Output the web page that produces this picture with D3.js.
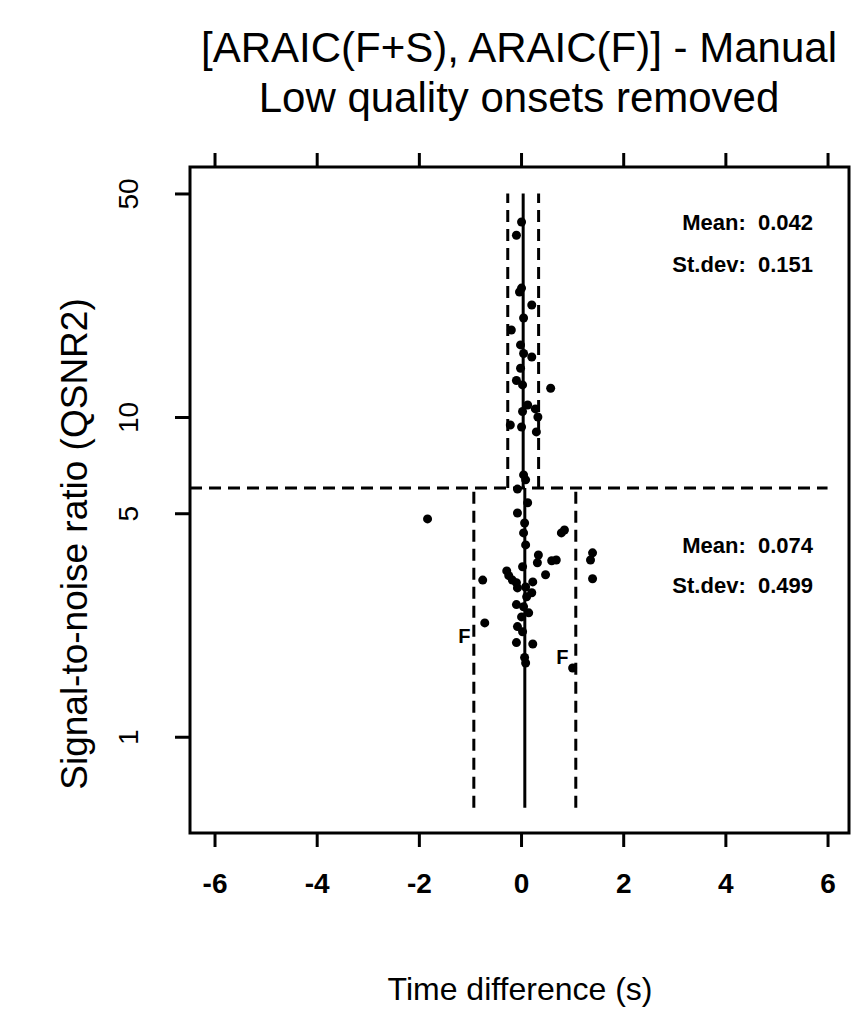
<!DOCTYPE html>
<html>
<head>
<meta charset="utf-8">
<script src="https://cdn.jsdelivr.net/npm/d3@7"></script>
<style>
  html, body { margin: 0; padding: 0; background: #fff; }
  svg { display: block; }
  text { font-family: "Liberation Sans", Arial, Helvetica, sans-serif; fill: #000; white-space: pre; }
</style>
</head>
<body>
<svg id="chart" width="851" height="1025"></svg>
<script>
// Onsets with high SNR (above threshold): [time difference (s), QSNR2]
const highTimeDiff = [0.01, -0.09, 0.01, -0.03, 0.21, 0.05, -0.19, -0.01, 0.05, 0.21, -0.01, -0.09, 0.03, 0.58, 0.13, 0.03, 0.28, 0.33, -0.21, 0.01, 0.30, 0.05, 0.09];
const highSNR      = [40.7, 37.0, 25.3, 24.6, 22.4, 20.4, 18.7, 16.8, 15.8, 15.4, 14.2, 13.0, 12.6, 12.3, 10.9, 10.4, 10.6, 10.0, 9.44, 9.3, 8.98, 6.59, 6.36];

// Onsets with low SNR (below threshold)
const lowTimeDiff = [-1.83, -0.07, 0.13, -0.07, 0.07, 0.85, 0.79, 0.05, 0.09, 0.34, 1.40, 1.36, 0.32, 0.60, 0.69, 0.03, -0.28, -0.24, -0.75, -0.17, -0.09, 0.23, 0.48, 1.40, -0.07, 0.09, 0.21, 0.11, -0.09, 0.05, 0.15, 0.01, -0.71, -0.07, 0.03, -0.09, 0.23, 0.07, 1.01, 0.09];
const lowSNR      = [4.80, 5.95, 5.39, 5.01, 4.66, 4.43, 4.34, 4.34, 3.98, 3.70, 3.76, 3.57, 3.50, 3.55, 3.57, 3.40, 3.30, 3.19, 3.09, 3.09, 3.03, 3.05, 3.21, 3.12, 2.92, 2.94, 2.82, 2.74, 2.59, 2.55, 2.44, 2.37, 2.27, 2.21, 2.13, 1.97, 1.95, 1.77, 1.64, 1.70];

// "F" flags next to two onsets
const flagTimeDiff = [-1.11, 0.81];
const flagSNR      = [2.07, 1.77];
const flagText     = ["F", "F"];

// Group summary: [high SNR group, low SNR group]
const groupMeans = [0.042, 0.074];
const groupSDs   = [0.151, 0.499];
const groupYSpan = [[6, 50], [0.6, 6]];
const snrThreshold = 6;

const xTicks = [-6, -4, -2, 0, 2, 4, 6];
const yTicks = [1, 5, 10, 50];

const titleLines = ["[ARAIC(F+S), ARAIC(F)] - Manual", "Low quality onsets removed"];
const xLabel = "Time difference (s)";
const yLabel = "Signal-to-noise ratio (QSNR2)";

const svg = d3.select("#chart");
const plotL = 190, plotR = 849, plotT = 167, plotB = 833;

const x = d3.scaleLinear().domain([-6.48, 6.42]).range([plotL, plotR]);
const y = d3.scaleLog().domain([0.5, 60.5]).range([plotB, plotT]);

// Titles
svg.selectAll("text.title").data(titleLines).join("text")
  .attr("class", "title")
  .attr("x", 519).attr("y", (d, i) => 62 + i * 50)
  .attr("text-anchor", "middle")
  .style("font-size", "42px")
  .text(d => d);

// Plot frame
svg.append("rect")
  .attr("x", plotL).attr("y", plotT)
  .attr("width", plotR - plotL).attr("height", plotB - plotT)
  .attr("fill", "none").attr("stroke", "#000").attr("stroke-width", 3);

// Bottom axis
const gx = svg.append("g").attr("transform", `translate(0,${plotB})`)
  .call(d3.axisBottom(x).tickValues(xTicks).tickSize(14).tickSizeOuter(0).tickPadding(26).tickFormat(d => String(d)));
gx.select(".domain").remove();
gx.selectAll(".tick line").attr("stroke", "#000").attr("stroke-width", 3);
gx.selectAll(".tick text").style("font-size", "28px").style("font-weight", "bold")
  .style("font-family", "'Liberation Sans', Arial, sans-serif");

// Top axis (ticks only)
const gt = svg.append("g").attr("transform", `translate(0,${plotT})`)
  .call(d3.axisTop(x).tickValues(xTicks).tickSize(14).tickSizeOuter(0).tickFormat(""));
gt.select(".domain").remove();
gt.selectAll(".tick line").attr("stroke", "#000").attr("stroke-width", 3);

// Left axis with rotated labels
const gy = svg.append("g").attr("transform", `translate(${plotL},0)`)
  .call(d3.axisLeft(y).tickValues(yTicks).tickSize(15).tickSizeOuter(0).tickFormat(d3.format("d")));
gy.select(".domain").remove();
gy.selectAll(".tick line").attr("stroke", "#000").attr("stroke-width", 3);
gy.selectAll(".tick text")
  .attr("x", null).attr("dy", null)
  .attr("text-anchor", "middle")
  .attr("transform", "translate(-52,0) rotate(-90)")
  .style("font-size", "28px").style("font-family", "'Liberation Sans', Arial, sans-serif");

// Axis titles
svg.append("text")
  .attr("x", 520).attr("y", 1000)
  .attr("text-anchor", "middle")
  .style("font-size", "32px")
  .text(xLabel);
svg.append("text")
  .attr("transform", `translate(87,544) rotate(-90)`)
  .attr("text-anchor", "middle")
  .style("font-size", "37px")
  .text(yLabel);

// Threshold line
svg.append("line")
  .attr("x1", plotL).attr("x2", x(6))
  .attr("y1", y(snrThreshold)).attr("y2", y(snrThreshold))
  .attr("stroke", "#000").attr("stroke-width", 3).attr("stroke-dasharray", "12,7");

// Mean and mean ± 2 sd lines per group
groupMeans.forEach((m, i) => {
  const sd = groupSDs[i];
  const [y0, y1] = groupYSpan[i];
  [m - 2 * sd, m + 2 * sd].forEach(v => {
    svg.append("line")
      .attr("x1", x(v)).attr("x2", x(v))
      .attr("y1", y(y0)).attr("y2", y(y1))
      .attr("stroke", "#000").attr("stroke-width", 3).attr("stroke-dasharray", "12,7");
  });
  svg.append("line")
    .attr("x1", x(m)).attr("x2", x(m))
    .attr("y1", y(y0)).attr("y2", y(y1))
    .attr("stroke", "#000").attr("stroke-width", 3);
});

// Points
const pts = highTimeDiff.map((d, i) => [d, highSNR[i]])
  .concat(lowTimeDiff.map((d, i) => [d, lowSNR[i]]));
svg.append("g").selectAll("circle").data(pts).join("circle")
  .attr("cx", d => x(d[0])).attr("cy", d => y(d[1]))
  .attr("r", 4.5).attr("fill", "#000");

// Flags
svg.append("g").selectAll("text").data(flagText).join("text")
  .attr("x", (d, i) => x(flagTimeDiff[i])).attr("y", (d, i) => y(flagSNR[i]))
  .attr("text-anchor", "middle").attr("dy", "0.35em")
  .style("font-size", "20px").style("font-weight", "bold")
  .text(d => d);

// Group statistics
const fmt = d3.format(".3f");
const statY = [[230, 272], [553, 593]];
groupMeans.forEach((m, i) => {
  const g = svg.append("g");
  g.append("text").attr("x", 813).attr("y", statY[i][0])
    .attr("text-anchor", "end").style("font-size", "22px").style("font-weight", "bold")
    .text(`Mean:  ${fmt(m)}`);
  g.append("text").attr("x", 813).attr("y", statY[i][1])
    .attr("text-anchor", "end").style("font-size", "22px").style("font-weight", "bold")
    .text(`St.dev:  ${fmt(groupSDs[i])}`);
});
</script>
</body>
</html>
